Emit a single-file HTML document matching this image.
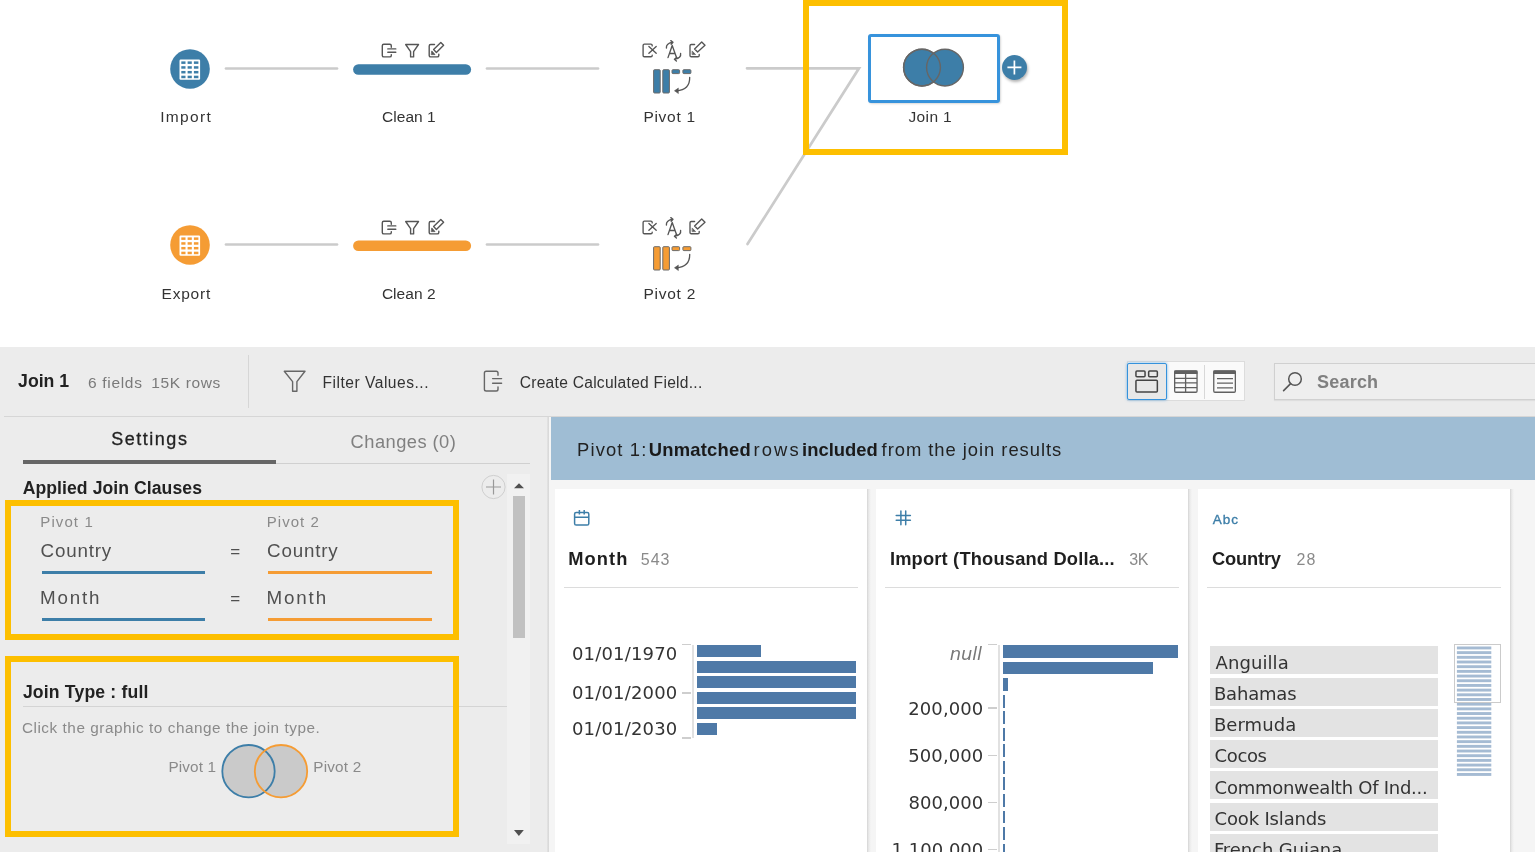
<!DOCTYPE html>
<html lang="en"><head><meta charset="utf-8"><title>Join 1</title>
<style>
html,body{margin:0;padding:0;background:#fff;}
body{width:1535px;height:852px;overflow:hidden;position:relative;font-family:"Liberation Sans",sans-serif;}
.t{position:absolute;white-space:nowrap;line-height:1;}
.r{position:absolute;}
svg{position:absolute;overflow:visible;}
</style></head><body>

<svg style="left:0;top:0" width="1535" height="347"><g stroke="#cbcbcb" stroke-width="2.7" fill="none" stroke-linecap="round"><path d="M226 68.5H337"/><path d="M487 68.5H598"/><path d="M747 68.3H859L747.5 244"/><path d="M226 244.5H337"/><path d="M487 244.5H598"/></g></svg>
<svg style="left:170.4px;top:48.5px" width="40" height="40" viewBox="0 0 40 40"><circle cx="20" cy="20" r="19.8" fill="#3d7ea8"/><rect x="9.5" y="10.5" width="20.6" height="20.3" rx="1.2" fill="#fff"/><g fill="#3d7ea8"><rect x="11.3" y="12.4" width="4.2" height="2.5"/><rect x="17.6" y="12.4" width="4.2" height="2.5"/><rect x="23.9" y="12.4" width="4.5" height="2.5"/><rect x="11.3" y="17.2" width="4.2" height="2.5"/><rect x="17.6" y="17.2" width="4.2" height="2.5"/><rect x="23.9" y="17.2" width="4.5" height="2.5"/><rect x="11.3" y="21.95" width="4.2" height="2.5"/><rect x="17.6" y="21.95" width="4.2" height="2.5"/><rect x="23.9" y="21.95" width="4.5" height="2.5"/><rect x="11.3" y="26.7" width="4.2" height="2.5"/><rect x="17.6" y="26.7" width="4.2" height="2.5"/><rect x="23.9" y="26.7" width="4.5" height="2.5"/></g></svg>
<svg style="left:170.4px;top:224.5px" width="40" height="40" viewBox="0 0 40 40"><circle cx="20" cy="20" r="19.8" fill="#f59c34"/><rect x="9.5" y="10.5" width="20.6" height="20.3" rx="1.2" fill="#fff"/><g fill="#f59c34"><rect x="11.3" y="12.4" width="4.2" height="2.5"/><rect x="17.6" y="12.4" width="4.2" height="2.5"/><rect x="23.9" y="12.4" width="4.5" height="2.5"/><rect x="11.3" y="17.2" width="4.2" height="2.5"/><rect x="17.6" y="17.2" width="4.2" height="2.5"/><rect x="23.9" y="17.2" width="4.5" height="2.5"/><rect x="11.3" y="21.95" width="4.2" height="2.5"/><rect x="17.6" y="21.95" width="4.2" height="2.5"/><rect x="23.9" y="21.95" width="4.5" height="2.5"/><rect x="11.3" y="26.7" width="4.2" height="2.5"/><rect x="17.6" y="26.7" width="4.2" height="2.5"/><rect x="23.9" y="26.7" width="4.5" height="2.5"/></g></svg>
<svg style="left:375px;top:38px" width="80" height="30"><g fill="none" stroke="#555" stroke-width="1.4" stroke-linejoin="round" stroke-linecap="round"><path d="M16.3 9.2V7.7Q16.3 6.2 14.8 6.2H8.8Q7.3 6.2 7.3 7.7V17.4Q7.3 18.9 8.8 18.9H14.8Q16.3 18.9 16.3 17.4V16.6"/><path d="M12.8 10.9H20.8M12.8 14.3H20.8"/><path d="M30.7 6.5H43.5L38.6 13.6V18.9H35.6V13.6Z"/><path d="M59.5 6.5H55.7Q54.2 6.5 54.2 8V17.4Q54.2 18.9 55.7 18.9H62.3Q63.8 18.9 63.8 17.4V16.3"/><path d="M65.8 4.4L68.6 7.2L61.4 14.4L58.6 11.6Z"/><path d="M57 13.2L60 16.6H56.6Z" fill="#555" stroke-width="0.8"/></g></svg>
<svg style="left:375px;top:214.5px" width="80" height="30"><g fill="none" stroke="#555" stroke-width="1.4" stroke-linejoin="round" stroke-linecap="round"><path d="M16.3 9.2V7.7Q16.3 6.2 14.8 6.2H8.8Q7.3 6.2 7.3 7.7V17.4Q7.3 18.9 8.8 18.9H14.8Q16.3 18.9 16.3 17.4V16.6"/><path d="M12.8 10.9H20.8M12.8 14.3H20.8"/><path d="M30.7 6.5H43.5L38.6 13.6V18.9H35.6V13.6Z"/><path d="M59.5 6.5H55.7Q54.2 6.5 54.2 8V17.4Q54.2 18.9 55.7 18.9H62.3Q63.8 18.9 63.8 17.4V16.3"/><path d="M65.8 4.4L68.6 7.2L61.4 14.4L58.6 11.6Z"/><path d="M57 13.2L60 16.6H56.6Z" fill="#555" stroke-width="0.8"/></g></svg>
<svg style="left:0;top:0" width="600" height="300"><g stroke-linecap="round" stroke-width="10.6" fill="none"><path d="M358.4 69.5H465.8" stroke="#3d7ea8"/><path d="M358.4 245.8H465.8" stroke="#f59c34"/></g></svg>
<svg style="left:635px;top:34.9px" width="80" height="65"><g fill="none" stroke="#555" stroke-width="1.35" stroke-linejoin="round" stroke-linecap="round"><path d="M17.2 10.9V10.4Q17.2 9.1 15.9 9.1H9.4Q8.1 9.1 8.1 10.4V20.4Q8.1 21.7 9.4 21.7H15.9Q17.2 21.7 17.2 20.4V20.1"/><path d="M13.9 11.5L21.2 18.3M21.2 11.5L13.9 18.3"/><path d="M33 22.6L37.2 10.5L41.5 22.6M34.5 18.5H40"/><path d="M31.4 13Q31 8.6 37.4 7.2M35.8 5.6L38 7.2L36.2 9.2"/><path d="M45.6 18.4Q46.4 23 40 24.2M41.8 22.4L39.4 24.2L41.4 26"/><path d="M59.6 9.5H56.3Q55 9.5 55 10.8V20.4Q55 21.7 56.3 21.7H62.9Q64.2 21.7 64.2 20.4V19.4"/><path d="M66.7 6.9L70 10.2L62.6 17L59.6 14Z"/><path d="M57.4 16.2L60.6 19.6H57.4Z" fill="#555" stroke-width="0.6"/></g><g fill="#3d7ea8" stroke="#6a6a6a" stroke-width="1"><rect x="18.6" y="34.7" width="6.6" height="23.3" rx="0.9"/><rect x="27.8" y="34.7" width="6.6" height="23.3" rx="0.9"/><rect x="37" y="34.7" width="7.6" height="3.9" rx="0.9"/><rect x="47.9" y="34.7" width="8" height="3.9" rx="0.9"/></g><g fill="none" stroke="#555" stroke-width="1.3" stroke-linecap="round" stroke-linejoin="round"><path d="M54.7 42.3Q55 55 41.4 55.8"/><path d="M43.1 53.3L39.5 55.8L43.1 58.3Z" fill="#555" stroke-width="0.6"/></g></svg>
<svg style="left:635px;top:211.5px" width="80" height="65"><g fill="none" stroke="#555" stroke-width="1.35" stroke-linejoin="round" stroke-linecap="round"><path d="M17.2 10.9V10.4Q17.2 9.1 15.9 9.1H9.4Q8.1 9.1 8.1 10.4V20.4Q8.1 21.7 9.4 21.7H15.9Q17.2 21.7 17.2 20.4V20.1"/><path d="M13.9 11.5L21.2 18.3M21.2 11.5L13.9 18.3"/><path d="M33 22.6L37.2 10.5L41.5 22.6M34.5 18.5H40"/><path d="M31.4 13Q31 8.6 37.4 7.2M35.8 5.6L38 7.2L36.2 9.2"/><path d="M45.6 18.4Q46.4 23 40 24.2M41.8 22.4L39.4 24.2L41.4 26"/><path d="M59.6 9.5H56.3Q55 9.5 55 10.8V20.4Q55 21.7 56.3 21.7H62.9Q64.2 21.7 64.2 20.4V19.4"/><path d="M66.7 6.9L70 10.2L62.6 17L59.6 14Z"/><path d="M57.4 16.2L60.6 19.6H57.4Z" fill="#555" stroke-width="0.6"/></g><g fill="#f59c34" stroke="#6a6a6a" stroke-width="1"><rect x="18.6" y="34.7" width="6.6" height="23.3" rx="0.9"/><rect x="27.8" y="34.7" width="6.6" height="23.3" rx="0.9"/><rect x="37" y="34.7" width="7.6" height="3.9" rx="0.9"/><rect x="47.9" y="34.7" width="8" height="3.9" rx="0.9"/></g><g fill="none" stroke="#555" stroke-width="1.3" stroke-linecap="round" stroke-linejoin="round"><path d="M54.7 42.3Q55 55 41.4 55.8"/><path d="M43.1 53.3L39.5 55.8L43.1 58.3Z" fill="#555" stroke-width="0.6"/></g></svg>
<div class="t" style="left:160.2px;top:109.38px;font-size:15.5px;color:#333;letter-spacing:1.336px;">Import</div>
<div class="t" style="left:161.5px;top:286.18px;font-size:15.5px;color:#333;letter-spacing:0.802px;">Export</div>
<div class="t" style="left:382.0px;top:109.38px;font-size:15.5px;color:#333;letter-spacing:0.049px;">Clean 1</div>
<div class="t" style="left:381.9px;top:286.18px;font-size:15.5px;color:#333;letter-spacing:0.033px;">Clean 2</div>
<div class="t" style="left:643.4px;top:109.38px;font-size:15.5px;color:#333;letter-spacing:0.722px;">Pivot 1</div>
<div class="t" style="left:643.4px;top:286.18px;font-size:15.5px;color:#333;letter-spacing:0.756px;">Pivot 2</div>
<div class="t" style="left:908.4px;top:109.38px;font-size:15.5px;color:#333;letter-spacing:0.392px;">Join 1</div>
<div class="r" style="left:803px;top:-0.3px;width:253px;height:143.2px;background:transparent;border:6px solid #fdbf00;"></div>
<div class="r" style="left:867.5px;top:34px;width:132px;height:69px;background:#fff;box-sizing:border-box;border:3px solid #3793dc;border-radius:3px;box-shadow:1px 1px 2px rgba(0,0,0,.15);"></div>
<svg style="left:895px;top:40px" width="80" height="56"><g fill="#3d7ea8" stroke="#666" stroke-width="1.4"><circle cx="27" cy="27.6" r="18.4"/><circle cx="50" cy="27.6" r="18.4"/></g><circle cx="27" cy="27.6" r="18.4" fill="none" stroke="#666" stroke-width="1.4"/></svg>
<div class="r" style="left:1002px;top:55px;width:25px;height:25px;border-radius:50%;background:#3d7ea8;box-shadow:1px 2px 3px rgba(0,0,0,.3);"></div>
<svg style="left:1002px;top:55px" width="25" height="25"><path d="M5.4 12.4H19.4M12.4 5.4V19.4" stroke="#fff" stroke-width="1.7"/></svg>
<div class="r" style="left:0px;top:347px;width:1535px;height:505px;background:#ececec;"></div>
<div class="r" style="left:549px;top:417px;width:986px;height:435px;background:#f5f5f5;"></div>
<div class="r" style="left:547px;top:417px;width:2px;height:435px;background:linear-gradient(90deg,#e4e4e4,#d6d6d6);"></div>
<div class="t" style="left:18.1px;top:372.72px;font-size:17.7px;color:#222;font-weight:bold;letter-spacing:-0.021px;">Join 1</div>
<div class="t" style="left:87.9px;top:374.58px;font-size:15.5px;color:#7a7a7a;letter-spacing:0.706px;">6 fields</div>
<div class="t" style="left:151.3px;top:374.58px;font-size:15.5px;color:#7a7a7a;letter-spacing:0.62px;">15K rows</div>
<div class="r" style="left:248px;top:355px;width:1px;height:53px;background:#d6d6d6;"></div>
<div class="r" style="left:4px;top:416px;width:1531px;height:1px;background:#d6d6d6;"></div>
<svg style="left:280px;top:367px" width="30" height="28"><path d="M4.3 4.2H25L16.9 14.6V24.2H12.6V14.6Z" fill="none" stroke="#666" stroke-width="1.4" stroke-linejoin="round"/></svg>
<div class="t" style="left:322.5px;top:374.59px;font-size:15.6px;color:#333;letter-spacing:0.499px;">Filter Values...</div>
<svg style="left:480px;top:367px" width="30" height="28"><g fill="none" stroke="#666" stroke-width="1.4" stroke-linejoin="round" stroke-linecap="round"><path d="M18 8.2V6Q18 4.2 16.2 4.2H6.2Q4.4 4.2 4.4 6V22.2Q4.4 24 6.2 24H16.2Q18 24 18 22.2V20"/><path d="M12.6 11.6H21.6M12.6 16.2H21.6"/></g></svg>
<div class="t" style="left:519.7px;top:374.59px;font-size:15.6px;color:#333;letter-spacing:0.265px;">Create Calculated Field...</div>
<div class="r" style="left:1126.8px;top:361.4px;width:118.5px;height:39.3px;background:#fafafa;box-sizing:border-box;border:1px solid #dcdcdc;"></div>
<div class="r" style="left:1204px;top:364.5px;width:1px;height:34px;background:#d8d8d8;"></div>
<div class="r" style="left:1126.8px;top:362.6px;width:39.8px;height:37.4px;background:#e8e8e8;box-sizing:border-box;border:1.6px solid #3592dc;border-radius:2px;box-shadow:0 0 3px rgba(53,146,220,.7);"></div>
<svg style="left:1127px;top:362px" width="120" height="40"><g fill="none" stroke="#444" stroke-width="1.5"><rect x="8.95" y="8.95" width="9.1" height="5.7" rx="1"/><rect x="21.65" y="8.95" width="8.7" height="5.7" rx="1"/><rect x="8.95" y="18.35" width="21.4" height="11.6" rx="1"/></g><g fill="none" stroke="#606060" stroke-width="1.3"><rect x="47.65" y="8.85" width="22.4" height="21.4" rx="1.2"/><rect x="47.3" y="8.5" width="23.1" height="3.5" fill="#606060" stroke="none"/><path d="M47.6 16.3H70M47.6 20.9H70M47.6 25.6H70M58.6 12V30.4"/><rect x="86.75" y="8.85" width="21.6" height="21.4" rx="1.2"/><rect x="86.4" y="8.5" width="22.3" height="3.5" fill="#606060" stroke="none"/><path d="M90 16.7H106M90 21.2H106M90 25.9H106"/></g></svg>
<div class="r" style="left:1274px;top:363px;width:270px;height:37px;background:#eeeeee;box-sizing:border-box;border:1px solid #d0d0d0;box-shadow:0 1px 1px rgba(0,0,0,.06);"></div>
<svg style="left:1278px;top:366px" width="30" height="30"><circle cx="17" cy="13" r="6.3" fill="none" stroke="#555" stroke-width="1.5"/><path d="M12.6 17.6L5.6 24.6" stroke="#555" stroke-width="1.6" stroke-linecap="round"/></svg>
<div class="t" style="left:1317.1px;top:373.06px;font-size:18px;color:#808080;font-weight:bold;letter-spacing:0.191px;">Search</div>
<div class="t" style="left:111.2px;top:430.46px;font-size:18px;color:#222;letter-spacing:1.523px;-webkit-text-stroke:0.3px #222;">Settings</div>
<div class="t" style="left:350.6px;top:432.71px;font-size:18.3px;color:#808080;letter-spacing:0.459px;">Changes (0)</div>
<div class="r" style="left:23px;top:463px;width:507px;height:1px;background:#d0d0d0;"></div>
<div class="r" style="left:23px;top:460px;width:253px;height:4px;background:#666;"></div>
<div class="t" style="left:22.7px;top:479.50px;font-size:17.6px;color:#222;font-weight:bold;letter-spacing:0.068px;">Applied Join Clauses</div>
<svg style="left:481px;top:475px" width="25" height="25"><circle cx="12.5" cy="12" r="11.6" fill="none" stroke="#cfcfcf" stroke-width="1"/><path d="M5 12H20M12.5 4.5V19.5" stroke="#999" stroke-width="1.2"/></svg>
<div class="r" style="left:507px;top:473.5px;width:23px;height:370.7px;background:#f1f1f1;"></div>
<div class="r" style="left:513.2px;top:496.2px;width:12.3px;height:141.8px;background:#c1c1c1;"></div>
<svg style="left:507px;top:473px" width="23" height="380"><path d="M7 15.2L12 10.2L17 15.2Z" fill="#505050"/><path d="M7 357L11.9 363L16.8 357Z" fill="#505050"/></svg>
<div class="r" style="left:5px;top:500px;width:442px;height:128px;background:transparent;border:6px solid #fdbf00;"></div>
<div class="t" style="left:40.3px;top:513.60px;font-size:15px;color:#8a8a8a;letter-spacing:1.098px;">Pivot 1</div>
<div class="t" style="left:266.8px;top:513.60px;font-size:15px;color:#8a8a8a;letter-spacing:1.031px;">Pivot 2</div>
<div class="t" style="left:40.6px;top:542.49px;font-size:18.8px;color:#505050;letter-spacing:0.812px;">Country</div>
<div class="t" style="left:267.1px;top:542.49px;font-size:18.8px;color:#505050;letter-spacing:0.812px;">Country</div>
<div class="t" style="left:230.3px;top:543.21px;font-size:17px;color:#505050;letter-spacing:1.8px;">=</div>
<div class="t" style="left:230.3px;top:590.31px;font-size:17px;color:#505050;letter-spacing:1.8px;">=</div>
<div class="t" style="left:40.0px;top:588.99px;font-size:18.8px;color:#505050;letter-spacing:1.826px;">Month</div>
<div class="t" style="left:266.5px;top:588.99px;font-size:18.8px;color:#505050;letter-spacing:1.851px;">Month</div>
<div class="r" style="left:41.5px;top:570.9px;width:163.6px;height:3px;background:#3d7ea8;"></div>
<div class="r" style="left:268px;top:570.9px;width:164.2px;height:3px;background:#f59c34;"></div>
<div class="r" style="left:41.5px;top:617.9px;width:163.6px;height:3px;background:#3d7ea8;"></div>
<div class="r" style="left:268px;top:617.9px;width:164.2px;height:3px;background:#f59c34;"></div>
<div class="t" style="left:22.9px;top:684.20px;font-size:17.6px;color:#222;font-weight:bold;letter-spacing:0.174px;">Join Type : full</div>
<div class="r" style="left:22.5px;top:706px;width:484.5px;height:1px;background:#d4d4d4;"></div>
<div class="t" style="left:21.9px;top:719.95px;font-size:15.3px;color:#8a8a8a;letter-spacing:0.546px;">Click the graphic to change the join type.</div>
<div class="t" style="left:168.4px;top:759.35px;font-size:15.3px;color:#8a8a8a;letter-spacing:0.123px;">Pivot 1</div>
<div class="t" style="left:313.3px;top:759.35px;font-size:15.3px;color:#8a8a8a;letter-spacing:0.189px;">Pivot 2</div>
<svg style="left:215px;top:740px" width="100" height="64"><circle cx="33.5" cy="31.2" r="26.2" fill="#cacaca"/><circle cx="66" cy="31.2" r="26.2" fill="#cacaca"/><circle cx="33.5" cy="31.2" r="26.2" fill="none" stroke="#3d7ea8" stroke-width="1.8"/><circle cx="66" cy="31.2" r="26.2" fill="none" stroke="#f59c34" stroke-width="1.8"/></svg>
<div class="r" style="left:5px;top:656.3px;width:442px;height:168.6px;background:transparent;border:6px solid #fdbf00;"></div>
<div class="r" style="left:551px;top:417px;width:984px;height:62.5px;background:#9fbdd4;"></div>
<div class="t" style="left:577.1px;top:440.82px;font-size:18.4px;color:#222;letter-spacing:1.121px;">Pivot 1:</div>
<div class="t" style="left:648.7px;top:440.82px;font-size:18.4px;color:#1a1a1a;font-weight:bold;letter-spacing:0.243px;">Unmatched</div>
<div class="t" style="left:753.6px;top:440.82px;font-size:18.4px;color:#222;letter-spacing:2.084px;">rows</div>
<div class="t" style="left:802.0px;top:440.82px;font-size:18.4px;color:#1a1a1a;font-weight:bold;letter-spacing:0.027px;">included</div>
<div class="t" style="left:881.6px;top:440.82px;font-size:18.4px;color:#222;letter-spacing:0.957px;">from the join results</div>
<div class="r" style="left:554.5px;top:488.7px;width:312.5px;height:380px;background:#fff;"></div>
<div class="r" style="left:867.0px;top:489px;width:3.5px;height:380px;background:linear-gradient(90deg,#d4d4d4,#eaeaea 45%,#f5f5f5);"></div>
<div class="r" style="left:564.0px;top:586.5px;width:293.5px;height:1px;background:#dcdcdc;"></div>
<div class="r" style="left:875.8px;top:488.7px;width:312.5px;height:380px;background:#fff;"></div>
<div class="r" style="left:1188.3px;top:489px;width:3.5px;height:380px;background:linear-gradient(90deg,#d4d4d4,#eaeaea 45%,#f5f5f5);"></div>
<div class="r" style="left:885.3px;top:586.5px;width:293.5px;height:1px;background:#dcdcdc;"></div>
<div class="r" style="left:1197.8px;top:488.7px;width:312.5px;height:380px;background:#fff;"></div>
<div class="r" style="left:1510.3px;top:489px;width:3.5px;height:380px;background:linear-gradient(90deg,#d4d4d4,#eaeaea 45%,#f5f5f5);"></div>
<div class="r" style="left:1207.3px;top:586.5px;width:293.5px;height:1px;background:#dcdcdc;"></div>
<svg style="left:570px;top:506px" width="24" height="24"><g fill="none" stroke="#3d7ea8" stroke-width="1.5" stroke-linejoin="round"><rect x="4.6" y="6.5" width="14.2" height="12.6" rx="1.6"/><path d="M4.6 11.2H18.8M9.4 4V8.6M14.2 4V8.6"/></g></svg>
<div class="t" style="left:568.2px;top:549.91px;font-size:18.3px;color:#1f1f1f;font-weight:bold;letter-spacing:1.076px;">Month</div>
<div class="t" style="left:640.8px;top:551.66px;font-size:16px;color:#8a8a8a;letter-spacing:0.952px;">543</div>
<svg style="left:892px;top:506px" width="24" height="24"><g fill="none" stroke="#3d7ea8" stroke-width="1.4"><path d="M8.9 5V18.8M13.7 5V18.8M4.2 9.6H18.4M4.2 14.3H18.4" stroke-linecap="round" stroke-width="1.5"/></g></svg>
<div class="t" style="left:889.9px;top:549.71px;font-size:18.3px;color:#1f1f1f;font-weight:bold;letter-spacing:0.182px;">Import (Thousand Dolla...</div>
<div class="t" style="left:1129.2px;top:551.66px;font-size:16px;color:#8a8a8a;letter-spacing:-0.398px;">3K</div>
<div class="t" style="left:1212.7px;top:512.57px;font-size:13.5px;color:#3d7ea8;letter-spacing:1.044px;-webkit-text-stroke:0.35px #3d7ea8;">Abc</div>
<div class="t" style="left:1212.0px;top:549.71px;font-size:18.3px;color:#1f1f1f;font-weight:bold;letter-spacing:-0.178px;">Country</div>
<div class="t" style="left:1296.4px;top:551.66px;font-size:16px;color:#8a8a8a;letter-spacing:1.202px;">28</div>
<div class="r" style="left:692.1px;top:645px;width:1.9px;height:93.4px;background:#e1e1e1;"></div>
<div class="r" style="left:681.9px;top:644px;width:9.2px;height:1.1px;background:#cecece;"></div>
<div class="r" style="left:681.9px;top:691.8px;width:9.2px;height:1.9px;background:#cecece;"></div>
<div class="r" style="left:681.9px;top:737.4px;width:9.2px;height:1.2px;background:#cecece;"></div>
<div class="r" style="left:697.1px;top:645.25px;width:63.9px;height:11.8px;background:#4e79a7;"></div>
<div class="r" style="left:697.1px;top:660.81px;width:159.2px;height:11.8px;background:#4e79a7;"></div>
<div class="r" style="left:697.1px;top:676.37px;width:159.2px;height:11.8px;background:#4e79a7;"></div>
<div class="r" style="left:697.1px;top:691.93px;width:159.2px;height:11.8px;background:#4e79a7;"></div>
<div class="r" style="left:697.1px;top:707.49px;width:159.2px;height:11.8px;background:#4e79a7;"></div>
<div class="r" style="left:697.1px;top:723.05px;width:19.8px;height:11.8px;background:#4e79a7;"></div>
<div class="t" style="left:572.0px;top:645.06px;font-size:18px;color:#333;font-family:'DejaVu Sans', 'Liberation Sans', sans-serif;letter-spacing:0.167px;">01/01/1970</div>
<div class="t" style="left:572.0px;top:684.46px;font-size:18px;color:#333;font-family:'DejaVu Sans', 'Liberation Sans', sans-serif;letter-spacing:0.167px;">01/01/2000</div>
<div class="t" style="left:572.0px;top:719.76px;font-size:18px;color:#333;font-family:'DejaVu Sans', 'Liberation Sans', sans-serif;letter-spacing:0.167px;">01/01/2030</div>
<div class="r" style="left:998px;top:645px;width:2px;height:220px;background:#e1e1e1;"></div>
<div class="r" style="left:987.7px;top:644px;width:9.4px;height:1.1px;background:#cecece;"></div>
<div class="r" style="left:987.7px;top:707.4px;width:9.4px;height:1.9px;background:#cecece;"></div>
<div class="r" style="left:987.7px;top:754.5px;width:9.4px;height:1.9px;background:#cecece;"></div>
<div class="r" style="left:987.7px;top:801.5px;width:9.4px;height:1.9px;background:#cecece;"></div>
<div class="r" style="left:987.7px;top:848.5px;width:9.4px;height:1.9px;background:#cecece;"></div>
<div class="r" style="left:1003px;top:645.05px;width:175.1px;height:12.9px;background:#4e79a7;"></div>
<div class="r" style="left:1003px;top:661.6px;width:149.8px;height:12.9px;background:#4e79a7;"></div>
<div class="r" style="left:1003px;top:678.15px;width:4.5px;height:12.9px;background:#4e79a7;"></div>
<div class="r" style="left:1003px;top:694.7px;width:2.1px;height:12.9px;background:#4e79a7;"></div>
<div class="r" style="left:1003px;top:711.25px;width:2.1px;height:12.9px;background:#4e79a7;"></div>
<div class="r" style="left:1003px;top:727.8px;width:2.1px;height:12.9px;background:#4e79a7;"></div>
<div class="r" style="left:1003px;top:744.35px;width:2.1px;height:12.9px;background:#4e79a7;"></div>
<div class="r" style="left:1003px;top:760.9px;width:2.1px;height:12.9px;background:#4e79a7;"></div>
<div class="r" style="left:1003px;top:777.45px;width:2.1px;height:12.9px;background:#4e79a7;"></div>
<div class="r" style="left:1003px;top:794.0px;width:2.1px;height:12.9px;background:#4e79a7;"></div>
<div class="r" style="left:1003px;top:810.55px;width:2.1px;height:12.9px;background:#4e79a7;"></div>
<div class="r" style="left:1003px;top:827.1px;width:2.1px;height:12.9px;background:#4e79a7;"></div>
<div class="r" style="left:1003px;top:843.65px;width:2.1px;height:12.9px;background:#4e79a7;"></div>
<div class="r" style="left:1003px;top:860.2px;width:2.1px;height:12.9px;background:#4e79a7;"></div>
<div class="t" style="left:949.7px;top:645.46px;font-size:18px;color:#777;font-family:'DejaVu Sans', 'Liberation Sans', sans-serif;letter-spacing:-0.139px;font-style:italic;">null</div>
<div class="t" style="left:908.3px;top:700.26px;font-size:18px;color:#333;font-family:'DejaVu Sans', 'Liberation Sans', sans-serif;letter-spacing:0.086px;">200,000</div>
<div class="t" style="left:908.3px;top:747.26px;font-size:18px;color:#333;font-family:'DejaVu Sans', 'Liberation Sans', sans-serif;letter-spacing:0.086px;">500,000</div>
<div class="t" style="left:908.4px;top:794.16px;font-size:18px;color:#333;font-family:'DejaVu Sans', 'Liberation Sans', sans-serif;letter-spacing:0.07px;">800,000</div>
<div class="t" style="left:891.6px;top:841.06px;font-size:18px;color:#333;font-family:'DejaVu Sans', 'Liberation Sans', sans-serif;letter-spacing:0.005px;">1,100,000</div>
<div class="r" style="left:1210.3px;top:646.2px;width:227.7px;height:28px;background:#e3e3e3;"></div>
<div class="t" style="left:1215.5px;top:653.56px;font-size:18px;color:#333;font-family:'DejaVu Sans', 'Liberation Sans', sans-serif;letter-spacing:0.092px;">Anguilla</div>
<div class="r" style="left:1210.3px;top:677.5px;width:227.7px;height:28px;background:#e3e3e3;"></div>
<div class="t" style="left:1213.9px;top:684.86px;font-size:18px;color:#333;font-family:'DejaVu Sans', 'Liberation Sans', sans-serif;letter-spacing:-0.18px;">Bahamas</div>
<div class="r" style="left:1210.3px;top:708.8px;width:227.7px;height:28px;background:#e3e3e3;"></div>
<div class="t" style="left:1213.9px;top:716.16px;font-size:18px;color:#333;font-family:'DejaVu Sans', 'Liberation Sans', sans-serif;letter-spacing:0.071px;">Bermuda</div>
<div class="r" style="left:1210.3px;top:740.1px;width:227.7px;height:28px;background:#e3e3e3;"></div>
<div class="t" style="left:1214.6px;top:747.46px;font-size:18px;color:#333;font-family:'DejaVu Sans', 'Liberation Sans', sans-serif;letter-spacing:-0.373px;">Cocos</div>
<div class="r" style="left:1210.3px;top:771.4px;width:227.7px;height:28px;background:#e3e3e3;"></div>
<div class="t" style="left:1214.6px;top:778.76px;font-size:18px;color:#333;font-family:'DejaVu Sans', 'Liberation Sans', sans-serif;letter-spacing:-0.262px;">Commonwealth Of Ind...</div>
<div class="r" style="left:1210.3px;top:802.7px;width:227.7px;height:28px;background:#e3e3e3;"></div>
<div class="t" style="left:1214.6px;top:810.06px;font-size:18px;color:#333;font-family:'DejaVu Sans', 'Liberation Sans', sans-serif;letter-spacing:-0.172px;">Cook Islands</div>
<div class="r" style="left:1210.3px;top:834.0px;width:227.7px;height:28px;background:#e3e3e3;"></div>
<div class="t" style="left:1213.9px;top:841.36px;font-size:18px;color:#333;font-family:'DejaVu Sans', 'Liberation Sans', sans-serif;letter-spacing:-0.088px;">French Guiana</div>
<svg style="left:1450px;top:640px" width="60" height="145"><g fill="#a5bbd3"><rect x="6.9" y="6.50" width="34.4" height="2.9"/><rect x="6.9" y="11.18" width="34.4" height="2.9"/><rect x="6.9" y="15.87" width="34.4" height="2.9"/><rect x="6.9" y="20.55" width="34.4" height="2.9"/><rect x="6.9" y="25.24" width="34.4" height="2.9"/><rect x="6.9" y="29.92" width="34.4" height="2.9"/><rect x="6.9" y="34.61" width="34.4" height="2.9"/><rect x="6.9" y="39.29" width="34.4" height="2.9"/><rect x="6.9" y="43.98" width="34.4" height="2.9"/><rect x="6.9" y="48.66" width="34.4" height="2.9"/><rect x="6.9" y="53.35" width="34.4" height="2.9"/><rect x="6.9" y="58.03" width="34.4" height="2.9"/><rect x="6.9" y="62.72" width="34.4" height="2.9"/><rect x="6.9" y="67.41" width="34.4" height="2.9"/><rect x="6.9" y="72.09" width="34.4" height="2.9"/><rect x="6.9" y="76.77" width="34.4" height="2.9"/><rect x="6.9" y="81.46" width="34.4" height="2.9"/><rect x="6.9" y="86.14" width="34.4" height="2.9"/><rect x="6.9" y="90.83" width="34.4" height="2.9"/><rect x="6.9" y="95.51" width="34.4" height="2.9"/><rect x="6.9" y="100.20" width="34.4" height="2.9"/><rect x="6.9" y="104.88" width="34.4" height="2.9"/><rect x="6.9" y="109.57" width="34.4" height="2.9"/><rect x="6.9" y="114.25" width="34.4" height="2.9"/><rect x="6.9" y="118.94" width="34.4" height="2.9"/><rect x="6.9" y="123.62" width="34.4" height="2.9"/><rect x="6.9" y="128.31" width="34.4" height="2.9"/><rect x="6.9" y="133.00" width="34.4" height="2.9"/></g><rect x="4.5" y="4.5" width="46" height="58" fill="none" stroke="#cbcbcb" stroke-width="1"/></svg>
</body></html>
